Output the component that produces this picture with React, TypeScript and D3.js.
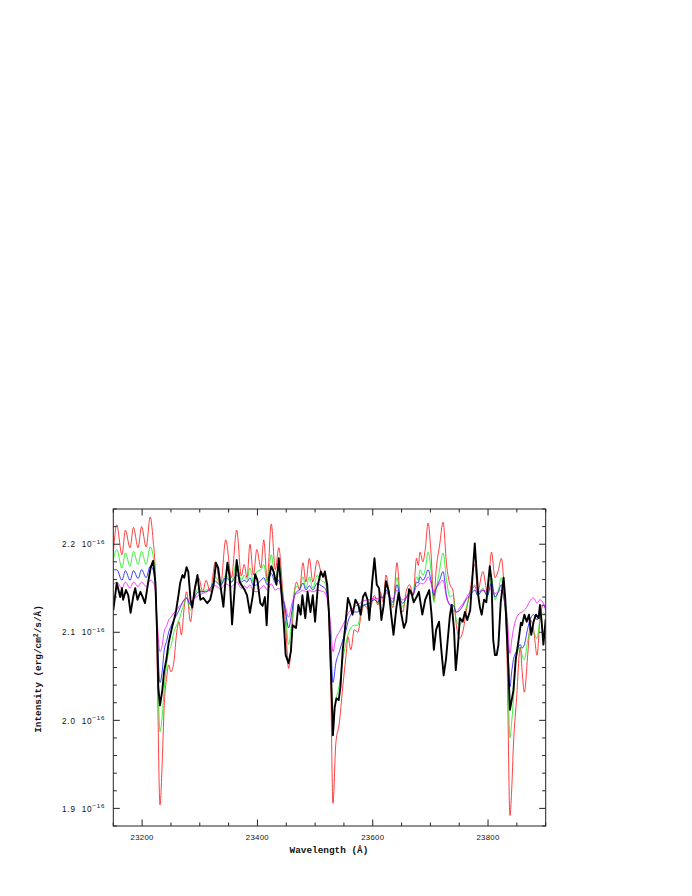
import { useEffect, useRef } from 'react'
import * as d3 from 'd3'

// Wavelength grid (Å) shared by the four model spectra
const modelWave = [
  23150, 23156, 23165, 23171, 23179, 23185, 23193, 23199, 23207, 23214,
  23219, 23223, 23226, 23231, 23235, 23238, 23243, 23246, 23250, 23255,
  23260, 23264, 23268, 23273, 23277, 23284, 23289, 23298, 23305, 23311,
  23318, 23327, 23336, 23345, 23355, 23364, 23372, 23377, 23382, 23387,
  23393, 23399, 23406, 23411, 23417, 23424, 23431, 23437, 23444, 23449,
  23454, 23460, 23464, 23468, 23473, 23479, 23484, 23490, 23496, 23504,
  23510, 23517, 23522, 23527, 23531, 23536, 23542, 23548, 23554, 23557,
  23562, 23568, 23574, 23580, 23585, 23594, 23603, 23609, 23613, 23618,
  23623, 23629, 23635, 23642, 23648, 23652, 23658, 23664, 23670, 23676,
  23679, 23682, 23687, 23691, 23696, 23701, 23706, 23710, 23716, 23722,
  23728, 23734, 23739, 23745, 23751, 23757, 23762, 23769, 23777, 23782,
  23791, 23799, 23806, 23812, 23818, 23823, 23828, 23833, 23838, 23841,
  23844, 23849, 23856, 23859, 23863, 23869, 23874, 23879, 23885, 23890,
  23896, 23900
]

// Model intensities, units of 1e-16 erg/cm2/s/Å
const modelRed = [
  2.190, 2.222, 2.188, 2.216, 2.196, 2.219, 2.196, 2.220, 2.197, 2.231,
  2.205, 2.165, 2.069, 1.904, 1.955, 2.012, 2.051, 2.063, 2.055, 2.066,
  2.100, 2.112, 2.097, 2.128, 2.146, 2.112, 2.141, 2.162, 2.146, 2.159,
  2.146, 2.180, 2.152, 2.205, 2.162, 2.216, 2.164, 2.177, 2.162, 2.200,
  2.165, 2.194, 2.173, 2.205, 2.159, 2.223, 2.171, 2.196, 2.146, 2.108,
  2.059, 2.100, 2.146, 2.157, 2.148, 2.179, 2.157, 2.184, 2.157, 2.182,
  2.169, 2.162, 2.137, 2.046, 1.906, 1.974, 1.997, 2.038, 2.076, 2.095,
  2.080, 2.103, 2.100, 2.120, 2.131, 2.125, 2.142, 2.131, 2.146, 2.134,
  2.165, 2.142, 2.128, 2.179, 2.134, 2.123, 2.146, 2.154, 2.142, 2.184,
  2.176, 2.191, 2.180, 2.194, 2.224, 2.191, 2.137, 2.171, 2.199, 2.225,
  2.177, 2.154, 2.148, 2.108, 2.093, 2.103, 2.123, 2.148, 2.177, 2.146,
  2.169, 2.146, 2.191, 2.162, 2.171, 2.184, 2.148, 2.069, 1.892, 1.921,
  1.972, 2.020, 2.083, 2.057, 2.032, 2.076, 2.114, 2.103, 2.074, 2.114,
  2.131, 2.128
]

const modelGreen = [
  2.182, 2.194, 2.173, 2.190, 2.175, 2.192, 2.177, 2.192, 2.177, 2.197,
  2.187, 2.159, 2.091, 1.987, 2.006, 2.034, 2.066, 2.078, 2.084, 2.100,
  2.108, 2.114, 2.123, 2.133, 2.139, 2.125, 2.137, 2.150, 2.146, 2.148,
  2.148, 2.163, 2.154, 2.165, 2.157, 2.179, 2.159, 2.165, 2.159, 2.173,
  2.157, 2.169, 2.171, 2.177, 2.157, 2.188, 2.159, 2.177, 2.142, 2.120,
  2.086, 2.116, 2.146, 2.152, 2.150, 2.163, 2.150, 2.163, 2.150, 2.165,
  2.159, 2.156, 2.139, 2.069, 2.003, 2.023, 2.040, 2.069, 2.089, 2.097,
  2.105, 2.108, 2.108, 2.125, 2.131, 2.133, 2.137, 2.133, 2.142, 2.139,
  2.154, 2.139, 2.131, 2.162, 2.137, 2.129, 2.140, 2.146, 2.142, 2.163,
  2.159, 2.171, 2.165, 2.171, 2.191, 2.171, 2.134, 2.148, 2.171, 2.190,
  2.159, 2.140, 2.142, 2.114, 2.108, 2.117, 2.128, 2.142, 2.154, 2.142,
  2.150, 2.140, 2.162, 2.137, 2.148, 2.162, 2.137, 2.091, 1.980, 1.998,
  2.023, 2.072, 2.083, 2.074, 2.069, 2.091, 2.103, 2.100, 2.093, 2.114,
  2.122, 2.120
]

const modelBlue = [
  2.171, 2.171, 2.159, 2.170, 2.159, 2.170, 2.161, 2.171, 2.162, 2.175,
  2.171, 2.154, 2.103, 2.043, 2.057, 2.078, 2.091, 2.100, 2.107, 2.114,
  2.120, 2.125, 2.131, 2.137, 2.139, 2.131, 2.137, 2.146, 2.146, 2.146,
  2.150, 2.158, 2.153, 2.162, 2.157, 2.165, 2.157, 2.159, 2.157, 2.162,
  2.153, 2.154, 2.159, 2.162, 2.154, 2.167, 2.156, 2.159, 2.139, 2.123,
  2.105, 2.125, 2.141, 2.146, 2.148, 2.156, 2.148, 2.153, 2.148, 2.156,
  2.153, 2.150, 2.137, 2.091, 2.043, 2.065, 2.078, 2.091, 2.103, 2.112,
  2.120, 2.123, 2.123, 2.130, 2.131, 2.133, 2.137, 2.134, 2.140, 2.139,
  2.148, 2.140, 2.134, 2.154, 2.137, 2.133, 2.139, 2.144, 2.142, 2.157,
  2.156, 2.163, 2.159, 2.163, 2.171, 2.159, 2.142, 2.150, 2.159, 2.169,
  2.142, 2.131, 2.131, 2.123, 2.125, 2.131, 2.137, 2.142, 2.148, 2.142,
  2.148, 2.142, 2.156, 2.140, 2.146, 2.154, 2.137, 2.108, 2.038, 2.055,
  2.069, 2.078, 2.086, 2.082, 2.086, 2.105, 2.116, 2.120, 2.114, 2.128,
  2.131, 2.125
]

const modelMagenta = [
  2.154, 2.157, 2.150, 2.157, 2.150, 2.157, 2.152, 2.157, 2.152, 2.159,
  2.157, 2.146, 2.114, 2.078, 2.086, 2.100, 2.108, 2.114, 2.117, 2.122,
  2.125, 2.129, 2.132, 2.137, 2.139, 2.133, 2.137, 2.142, 2.144, 2.146,
  2.148, 2.153, 2.149, 2.155, 2.152, 2.157, 2.150, 2.153, 2.150, 2.154,
  2.147, 2.146, 2.150, 2.153, 2.148, 2.155, 2.148, 2.150, 2.139, 2.128,
  2.117, 2.133, 2.141, 2.144, 2.145, 2.148, 2.146, 2.148, 2.146, 2.148,
  2.147, 2.145, 2.134, 2.108, 2.078, 2.093, 2.100, 2.108, 2.116, 2.121,
  2.125, 2.129, 2.131, 2.134, 2.136, 2.137, 2.139, 2.138, 2.140, 2.140,
  2.145, 2.141, 2.138, 2.148, 2.139, 2.137, 2.140, 2.144, 2.144, 2.152,
  2.153, 2.156, 2.155, 2.157, 2.163, 2.156, 2.146, 2.150, 2.156, 2.159,
  2.139, 2.131, 2.125, 2.123, 2.128, 2.133, 2.139, 2.146, 2.152, 2.146,
  2.148, 2.146, 2.150, 2.144, 2.146, 2.148, 2.137, 2.120, 2.076, 2.091,
  2.103, 2.116, 2.122, 2.123, 2.125, 2.131, 2.137, 2.139, 2.133, 2.137,
  2.133, 2.128
]

// Observed spectrum (black)
const obsWave = [
  23150, 23156, 23162, 23165, 23167, 23172, 23176, 23180, 23185, 23188,
  23192, 23197, 23201, 23205, 23211, 23215, 23219, 23223, 23226, 23228,
  23231, 23235, 23238, 23242, 23246, 23249, 23252, 23256, 23259, 23263,
  23266, 23270, 23273, 23277, 23280, 23284, 23287, 23291, 23296, 23301,
  23306, 23313, 23318, 23324, 23328, 23332, 23336, 23341, 23344, 23348,
  23352, 23356, 23360, 23364, 23369, 23373, 23378, 23382, 23387, 23392,
  23396, 23400, 23405, 23409, 23413, 23416, 23420, 23424, 23428, 23433,
  23437, 23442, 23446, 23449, 23454, 23458, 23461, 23467, 23471, 23475,
  23478, 23483, 23487, 23492, 23496, 23500, 23505, 23510, 23514, 23517,
  23521, 23524, 23527, 23531, 23534, 23537, 23541, 23544, 23548, 23552,
  23557, 23561, 23565, 23570, 23575, 23579, 23583, 23587, 23591, 23594,
  23599, 23603, 23607, 23611, 23615, 23619, 23623, 23628, 23632, 23636,
  23641, 23645, 23649, 23654, 23658, 23663, 23667, 23671, 23676, 23680,
  23686, 23691, 23698, 23702, 23706, 23710, 23715, 23719, 23723, 23727,
  23730, 23734, 23737, 23741, 23744, 23748, 23751, 23756, 23760, 23764,
  23769, 23772, 23777, 23780, 23783, 23786, 23789, 23793, 23797, 23803,
  23806, 23809, 23812, 23815, 23818, 23822, 23827, 23830, 23834, 23838,
  23841, 23844, 23848, 23853, 23857, 23859, 23863, 23867, 23871, 23875,
  23879, 23883, 23888, 23890, 23893, 23896, 23900
]

const obsFlux = [
  2.125, 2.156, 2.140, 2.150, 2.137, 2.148, 2.142, 2.122, 2.142, 2.150,
  2.137, 2.146, 2.140, 2.133, 2.159, 2.174, 2.181, 2.156, 2.099, 2.038,
  2.017, 2.034, 2.055, 2.069, 2.088, 2.097, 2.106, 2.116, 2.125, 2.142,
  2.156, 2.165, 2.162, 2.174, 2.169, 2.137, 2.128, 2.148, 2.165, 2.137,
  2.139, 2.133, 2.137, 2.154, 2.179, 2.173, 2.152, 2.129, 2.154, 2.179,
  2.162, 2.109, 2.145, 2.182, 2.157, 2.153, 2.148, 2.142, 2.122, 2.142,
  2.166, 2.159, 2.133, 2.130, 2.140, 2.108, 2.162, 2.175, 2.169, 2.154,
  2.184, 2.142, 2.108, 2.074, 2.065, 2.078, 2.108, 2.105, 2.131, 2.120,
  2.142, 2.116, 2.146, 2.123, 2.142, 2.112, 2.154, 2.169, 2.163, 2.169,
  2.154, 2.123, 2.066, 1.983, 2.015, 2.025, 2.023, 2.038, 2.080, 2.105,
  2.139, 2.131, 2.120, 2.137, 2.131, 2.120, 2.140, 2.145, 2.137, 2.114,
  2.157, 2.184, 2.154, 2.150, 2.114, 2.131, 2.158, 2.146, 2.120, 2.097,
  2.128, 2.145, 2.123, 2.105, 2.112, 2.149, 2.145, 2.134, 2.140, 2.146,
  2.120, 2.137, 2.148, 2.120, 2.080, 2.103, 2.112, 2.080, 2.051, 2.069,
  2.091, 2.120, 2.131, 2.103, 2.057, 2.086, 2.116, 2.112, 2.123, 2.114,
  2.125, 2.154, 2.201, 2.171, 2.142, 2.128, 2.120, 2.137, 2.134, 2.175,
  2.159, 2.091, 2.074, 2.074, 2.086, 2.134, 2.162, 2.137, 2.080, 2.012,
  2.023, 2.034, 2.069, 2.091, 2.111, 2.108, 2.120, 2.112, 2.120, 2.097,
  2.112, 2.120, 2.116, 2.131, 2.112, 2.086, 2.115
]

const xTickLabels = [23200, 23400, 23600, 23800]
const yTickLabels = [1.9, 2.0, 2.1, 2.2]

const modelSeries = [
  { name: 'red', values: modelRed, color: '#ff0000' },
  { name: 'green', values: modelGreen, color: '#00ee00' },
  { name: 'blue', values: modelBlue, color: '#0000ff' },
  { name: 'magenta', values: modelMagenta, color: '#ff00ff' }
]

export default function App() {
  const svgRef = useRef(null)

  useEffect(() => {
    const width = 692
    const height = 896
    const plot = { left: 113.3, right: 545.7, top: 509, bottom: 826 }

    const svg = d3.select(svgRef.current)
    svg.selectAll('*').remove()

    svg.append('rect')
      .attr('width', width)
      .attr('height', height)
      .attr('fill', '#fff')

    const x = d3.scaleLinear().domain([23150, 23900]).range([plot.left, plot.right])
    const y = d3.scaleLinear().domain([1.88, 2.24]).range([plot.bottom, plot.top])

    svg.append('clipPath')
      .attr('id', 'plot-clip')
      .append('rect')
      .attr('x', plot.left)
      .attr('y', plot.top)
      .attr('width', plot.right - plot.left)
      .attr('height', plot.bottom - plot.top)

    const lines = svg.append('g').attr('clip-path', 'url(#plot-clip)')

    // Model spectra
    modelSeries.forEach(s => {
      const line = d3.line<number>()
        .x((d, i) => x(modelWave[i]))
        .y(d => y(d))
        .curve(d3.curveMonotoneX)
      lines.append('path')
        .datum(s.values)
        .attr('fill', 'none')
        .attr('stroke', s.color)
        .attr('stroke-width', 0.75)
        .attr('d', line)
    })

    // Observed spectrum
    const obsLine = d3.line<number>()
      .x((d, i) => x(obsWave[i]))
      .y(d => y(d))
    lines.append('path')
      .datum(obsFlux)
      .attr('fill', 'none')
      .attr('stroke', '#000')
      .attr('stroke-width', 1.9)
      .attr('stroke-linejoin', 'round')
      .attr('d', obsLine)

    // Frame
    svg.append('rect')
      .attr('x', plot.left)
      .attr('y', plot.top)
      .attr('width', plot.right - plot.left)
      .attr('height', plot.bottom - plot.top)
      .attr('fill', 'none')
      .attr('stroke', '#222')
      .attr('stroke-width', 1)

    // Ticks, all pointing inwards on the four sides
    const xMinor = d3.range(23150, 23901, 50)
    const yMinor = d3.range(1.88, 2.2401, 0.02)
    const ticks = svg.append('g').attr('stroke', '#222').attr('stroke-width', 1)

    xMinor.forEach(v => {
      const len = xTickLabels.includes(v) ? 6.5 : 3.5
      ticks.append('line').attr('x1', x(v)).attr('x2', x(v))
        .attr('y1', plot.bottom).attr('y2', plot.bottom - len)
      ticks.append('line').attr('x1', x(v)).attr('x2', x(v))
        .attr('y1', plot.top).attr('y2', plot.top + len)
    })
    yMinor.forEach(v => {
      const major = yTickLabels.some(t => Math.abs(t - v) < 1e-6)
      const len = major ? 6.5 : 3.5
      ticks.append('line').attr('x1', plot.left).attr('x2', plot.left + len)
        .attr('y1', y(v)).attr('y2', y(v))
      ticks.append('line').attr('x1', plot.right).attr('x2', plot.right - len)
        .attr('y1', y(v)).attr('y2', y(v))
    })

    // Tick labels
    const sans = '"Liberation Sans", Arial, sans-serif'
    svg.append('g')
      .selectAll('text')
      .data(xTickLabels)
      .enter().append('text')
      .attr('x', d => x(d))
      .attr('y', 839.5)
      .attr('text-anchor', 'middle')
      .attr('font-family', sans)
      .attr('font-size', 7.8)
      .attr('letter-spacing', 0.3)
      .attr('fill', '#111')
      .text(d => d)

    const yLab = svg.append('g')
      .attr('font-family', sans)
      .attr('font-size', 8.2)
      .attr('letter-spacing', 0.8)
      .attr('fill', '#111')
    yTickLabels.forEach(v => {
      yLab.append('text')
        .attr('x', 75.8)
        .attr('y', y(v) + 3.2)
        .attr('text-anchor', 'end')
        .text(d3.format('.1f')(v))
      const t = yLab.append('text')
        .attr('x', 81.7)
        .attr('y', y(v) + 3.2)
      t.append('tspan').text('10')
      t.append('tspan').attr('dy', -3.8).attr('font-size', 6.2).text('\u221216')
    })

    // Axis titles
    const mono = '"Liberation Mono", "Courier New", monospace'
    svg.append('text')
      .attr('x', 329)
      .attr('y', 852.7)
      .attr('text-anchor', 'middle')
      .attr('font-family', mono)
      .attr('font-weight', 'bold')
      .attr('font-size', 9.4)
      .attr('fill', '#111')
      .text('Wavelength (\u00c5)')

    const yTitle = svg.append('text')
      .attr('transform', 'translate(41,669) rotate(-90)')
      .attr('text-anchor', 'middle')
      .attr('font-family', mono)
      .attr('font-weight', 'bold')
      .attr('font-size', 9.4)
      .attr('fill', '#111')
    yTitle.append('tspan').text('Intensity (erg/cm')
    yTitle.append('tspan').attr('dy', -3.5).attr('font-size', 6.5).text('2')
    yTitle.append('tspan').attr('dy', 3.5).text('/s/\u00c5)')
  }, [])

  return (
    <svg
      ref={svgRef}
      width={692}
      height={896}
      style={{ position: 'absolute', left: 0, top: 0 }}
    />
  )
}
